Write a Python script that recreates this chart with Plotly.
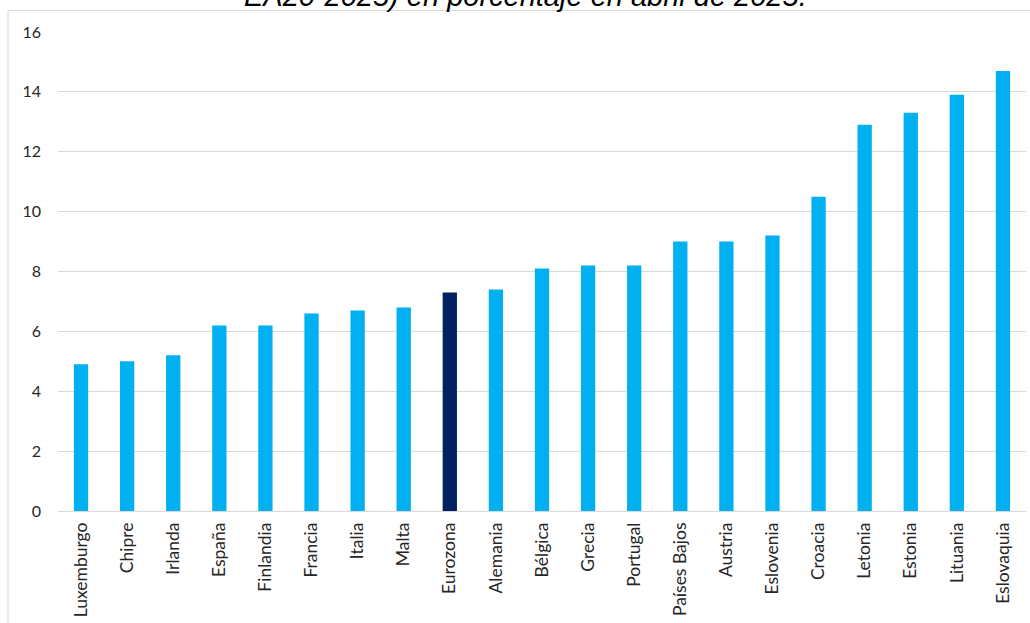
import plotly.graph_objects as go

countries = ["Luxemburgo", "Chipre", "Irlanda", "España", "Finlandia", "Francia", "Italia",
             "Malta", "Eurozona", "Alemania", "Bélgica", "Grecia", "Portugal", "Países Bajos",
             "Austria", "Eslovenia", "Croacia", "Letonia", "Estonia", "Lituania", "Eslovaquia"]
values = [4.9, 5.0, 5.2, 6.2, 6.2, 6.6, 6.7, 6.8, 7.3, 7.4, 8.1, 8.2, 8.2, 9.0, 9.0, 9.2,
          10.5, 12.9, 13.3, 13.9, 14.7]
y_ticks = [0, 2, 4, 6, 8, 10, 12, 14, 16]
title_text = "EA20-2025) en porcentaje en abril de 2025."

colors = ["#002060" if c == "Eurozona" else "#00B0F0" for c in countries]

W, H = 1030, 623
ml, mr, mt, mb = 58, 4, 32, 112
ph = H - mt - mb
pw = W - ml - mr

fig = go.Figure(go.Bar(x=countries, y=values, marker=dict(color=colors, line=dict(width=0)),
                       width=0.31))

fig.update_layout(
    width=W, height=H, autosize=False,
    margin=dict(l=ml, r=mr, t=mt, b=mb, pad=0),
    paper_bgcolor="white", plot_bgcolor="white",
    showlegend=False,
    font=dict(family="Lato, Open Sans, sans-serif", color="#262626"),
    xaxis=dict(tickangle=-90, tickfont=dict(size=17.5, color="#262626"), showgrid=False,
               showline=False, ticks="", ticklabelstandoff=7),
    yaxis=dict(range=[0, 16], tickvals=y_ticks, tickfont=dict(size=16, color="#262626"),
               showgrid=True, gridcolor="#D9D9D9", gridwidth=1.3, zeroline=True,
               zerolinecolor="#D9D9D9", zerolinewidth=1.3, showline=False, ticks="",
               ticklabelstandoff=16),
    annotations=[dict(text=title_text, xref="paper", yref="paper",
                      x=(525 - ml) / pw, y=(H - mb - 14) / ph, xanchor="center", yanchor="bottom",
                      showarrow=False,
                      font=dict(family="Liberation Sans, Arial", size=29, color="#000000",
                                style="italic"))],
    shapes=[dict(type="rect", xref="paper", yref="paper",
                 x0=(8 - ml) / pw, x1=(1040 - ml) / pw,
                 y0=(H - mb - 640) / ph, y1=(H - mb - 10.5) / ph,
                 line=dict(color="#D9D9D9", width=1), fillcolor="rgba(0,0,0,0)", layer="below")],
)

fig.write_html("out.html")
